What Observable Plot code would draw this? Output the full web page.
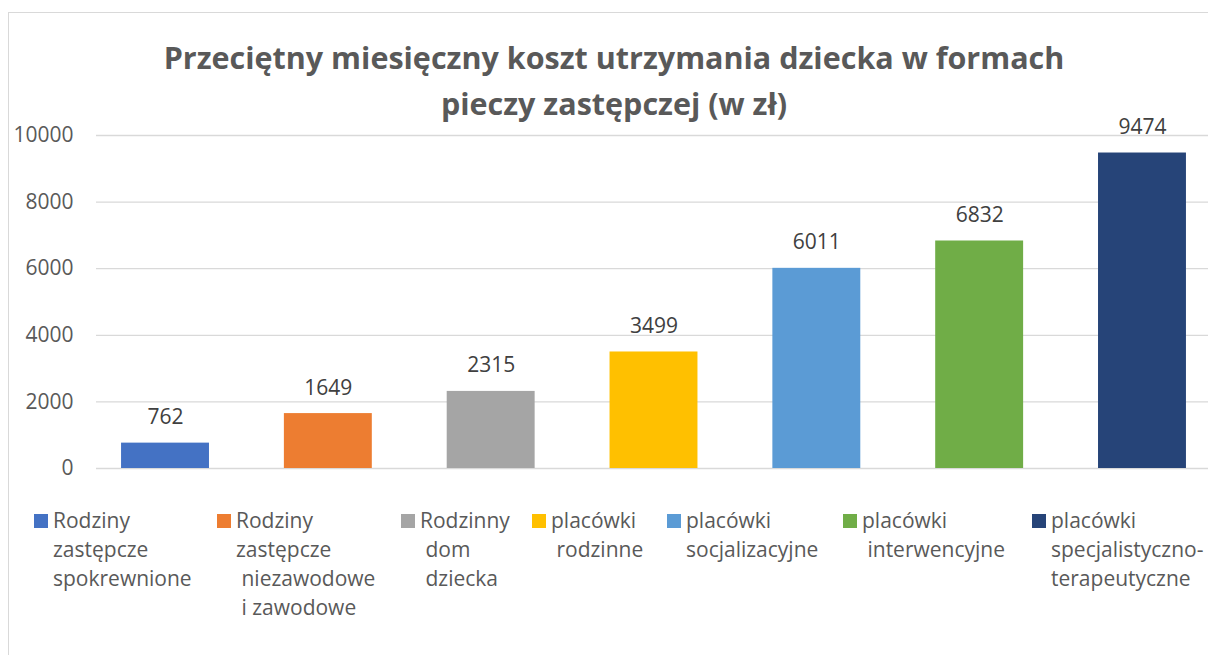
<!DOCTYPE html>
<html>
<head>
<meta charset="utf-8">
<script src="https://cdn.jsdelivr.net/npm/d3@7"></script>
<script src="https://cdn.jsdelivr.net/npm/@observablehq/plot@0.6"></script>
<style>
  body { margin: 0; background: #fff; font-family: "Open Sans", sans-serif; }
  #wrap { position: relative; width: 1208px; height: 655px; overflow: hidden; background: #fff; }
  #border { position: absolute; left: 8px; top: 12px; width: 1400px; height: 800px; border: 1px solid #d9d9d9; box-sizing: border-box; }
  #title { position: absolute; left: 0; top: 34px; width: 1228px; text-align: center; font-weight: 700; font-size: 30.5px; line-height: 46px; color: #595959; }
  #chart { position: absolute; left: 0; top: 0; }
  .leg { position: absolute; top: 506px; font-size: 21px; line-height: 29px; color: #595959; white-space: pre; }
  .sw { position: absolute; width: 14px; height: 14px; top: 514px; }
</style>
</head>
<body>
<div id="wrap">
  <div id="border"></div>
  <div id="chart"></div>
  <div id="title">Przeciętny miesięczny koszt utrzymania dziecka w formach<br>pieczy zastępczej (w zł)</div>
</div>
<script>
const categories = [
  "Rodziny zastępcze spokrewnione",
  "Rodziny zastępcze niezawodowe i zawodowe",
  "Rodzinny dom dziecka",
  "placówki rodzinne",
  "placówki socjalizacyjne",
  "placówki interwencyjne",
  "placówki specjalistyczno-terapeutyczne"
];
const values = [762, 1649, 2315, 3499, 6011, 6832, 9474];
const colors = ["#4472C4", "#ED7D31", "#A5A5A5", "#FFC000", "#5B9BD5", "#70AD47", "#264478"];
const yTicks = [0, 2000, 4000, 6000, 8000, 10000];
const legendLines = [
  ["Rodziny", "zastępcze", "spokrewnione"],
  ["Rodziny", "zastępcze", " niezawodowe", " i zawodowe"],
  ["Rodzinny", " dom", " dziecka"],
  ["placówki", " rodzinne"],
  ["placówki", "socjalizacyjne"],
  ["placówki", " interwencyjne"],
  ["placówki", "specjalistyczno-", "terapeutyczne"]
];

const data = categories.map((c, i) => ({cat: c, value: values[i]}));

const plot = Plot.plot({
  width: 1208,
  height: 500,
  marginLeft: 96,
  marginRight: 0,
  marginTop: 135,
  marginBottom: 32,
  style: {fontFamily: "'Open Sans', sans-serif", background: "transparent", overflow: "visible"},
  x: {domain: categories, range: [83.6, 1223.4], paddingInner: 0.46, paddingOuter: 0.23, round: false, axis: null},
  y: {domain: [0, 10000]},
  color: {domain: categories, range: colors},
  marks: [
    Plot.ruleY(yTicks, {stroke: "#d9d9d9", strokeWidth: 1.3}),
    Plot.barY(data, {x: "cat", y: "value", fill: "cat"}),
    Plot.text(data, {x: "cat", y: "value", text: d => String(d.value), lineAnchor: "bottom", dy: -19, fontSize: 21, fill: "#404040"}),
    Plot.axisY({ticks: yTicks, tickSize: 0, tickPadding: 23, tickFormat: d3.format("d"), fontSize: 21, color: "#595959", label: null})
  ]
});
document.getElementById("chart").appendChild(plot);

const swX = [34, 217, 401, 532, 667, 843, 1032];
const wrap = document.getElementById("wrap");
legendLines.forEach((lines, i) => {
  const sw = document.createElement("div");
  sw.className = "sw";
  sw.style.left = swX[i] + "px";
  sw.style.background = colors[i];
  wrap.appendChild(sw);
  const t = document.createElement("div");
  t.className = "leg";
  t.style.left = (swX[i] + 19) + "px";
  t.textContent = lines.join("\n");
  wrap.appendChild(t);
});
</script>
</body>
</html>
